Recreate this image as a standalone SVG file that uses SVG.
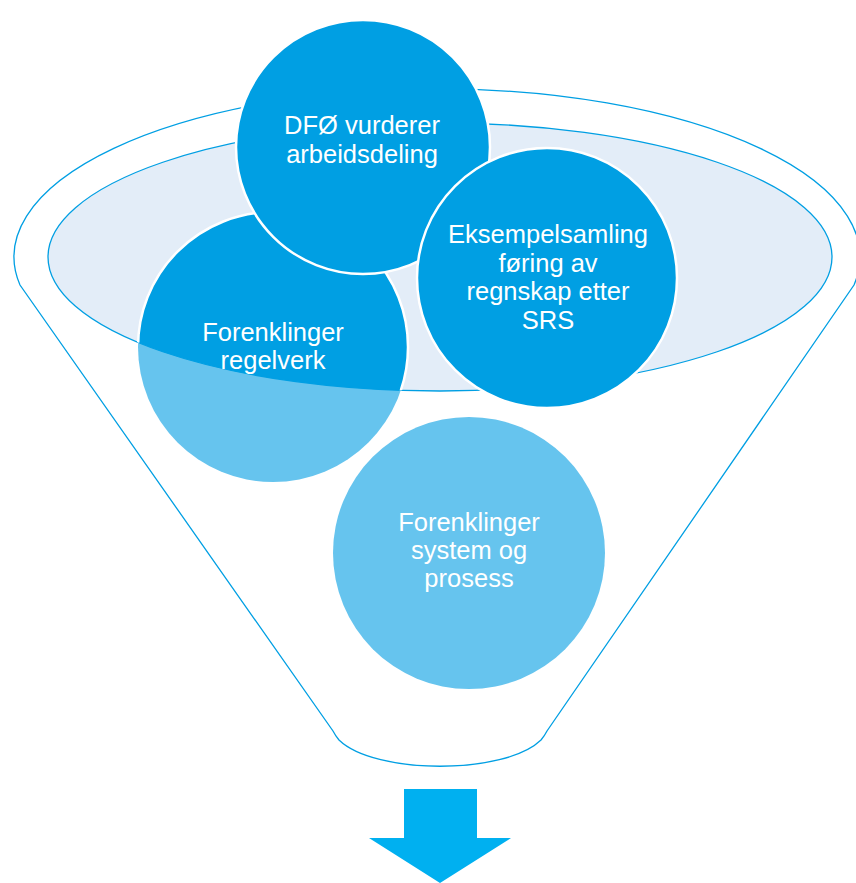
<svg xmlns="http://www.w3.org/2000/svg" width="856" height="883" viewBox="0 0 856 883">
<style>
.t{font-family:"Liberation Sans",Arial,sans-serif;font-size:25.5px;fill:#fff;text-anchor:middle}
.dk{fill:#009FE3;stroke:#fff;stroke-width:2.5}
.lt{fill:#66C4EE}
.ln{fill:none;stroke:#009FE3;stroke-width:1.3}
</style>
<defs>
<clipPath id="ce"><ellipse cx="440" cy="257" rx="392" ry="134"/></clipPath>
<clipPath id="cr"><circle cx="273" cy="347" r="134"/></clipPath>
</defs>
<rect width="856" height="883" fill="#fff"/>
<g id="funnel">
<path class="ln" d="M20,285 A423,168 0 1 1 854,285 L547,731 Q545,735 541,740 C505,775 375,775 339,740 Q335,735 333,731 Z"/>
<ellipse cx="440" cy="257" rx="392" ry="134" fill="#E3EDF8" stroke="#009FE3" stroke-width="1.3"/>
</g>
<g id="regelverk">
<circle class="lt" cx="273" cy="347" r="135"/>
<circle class="dk" cx="273" cy="347" r="135" clip-path="url(#ce)"/>
<ellipse class="ln" cx="440" cy="257" rx="392" ry="134" clip-path="url(#cr)"/>
<text class="t" x="273" y="341">Forenklinger</text>
<text class="t" x="273" y="369">regelverk</text>
</g>
<g id="dfo">
<circle class="dk" cx="363" cy="147" r="127"/>
<text class="t" x="362" y="134">DFØ vurderer</text>
<text class="t" x="362" y="163">arbeidsdeling</text>
</g>
<g id="eksempel">
<circle class="dk" cx="547" cy="278" r="130"/>
<text class="t" x="548" y="243">Eksempelsamling</text>
<text class="t" x="548" y="271.5">føring av</text>
<text class="t" x="548" y="300">regnskap etter</text>
<text class="t" x="548" y="328.5">SRS</text>
</g>
<g id="system">
<circle class="lt" cx="469" cy="553" r="136"/>
<text class="t" x="469" y="531">Forenklinger</text>
<text class="t" x="469" y="559">system og</text>
<text class="t" x="469" y="587">prosess</text>
</g>
<g id="arrow">
<path d="M404,789 H477 V838 H511 L440,883 L369,838 H404 Z" fill="#00B0F0"/>
</g>
</svg>
